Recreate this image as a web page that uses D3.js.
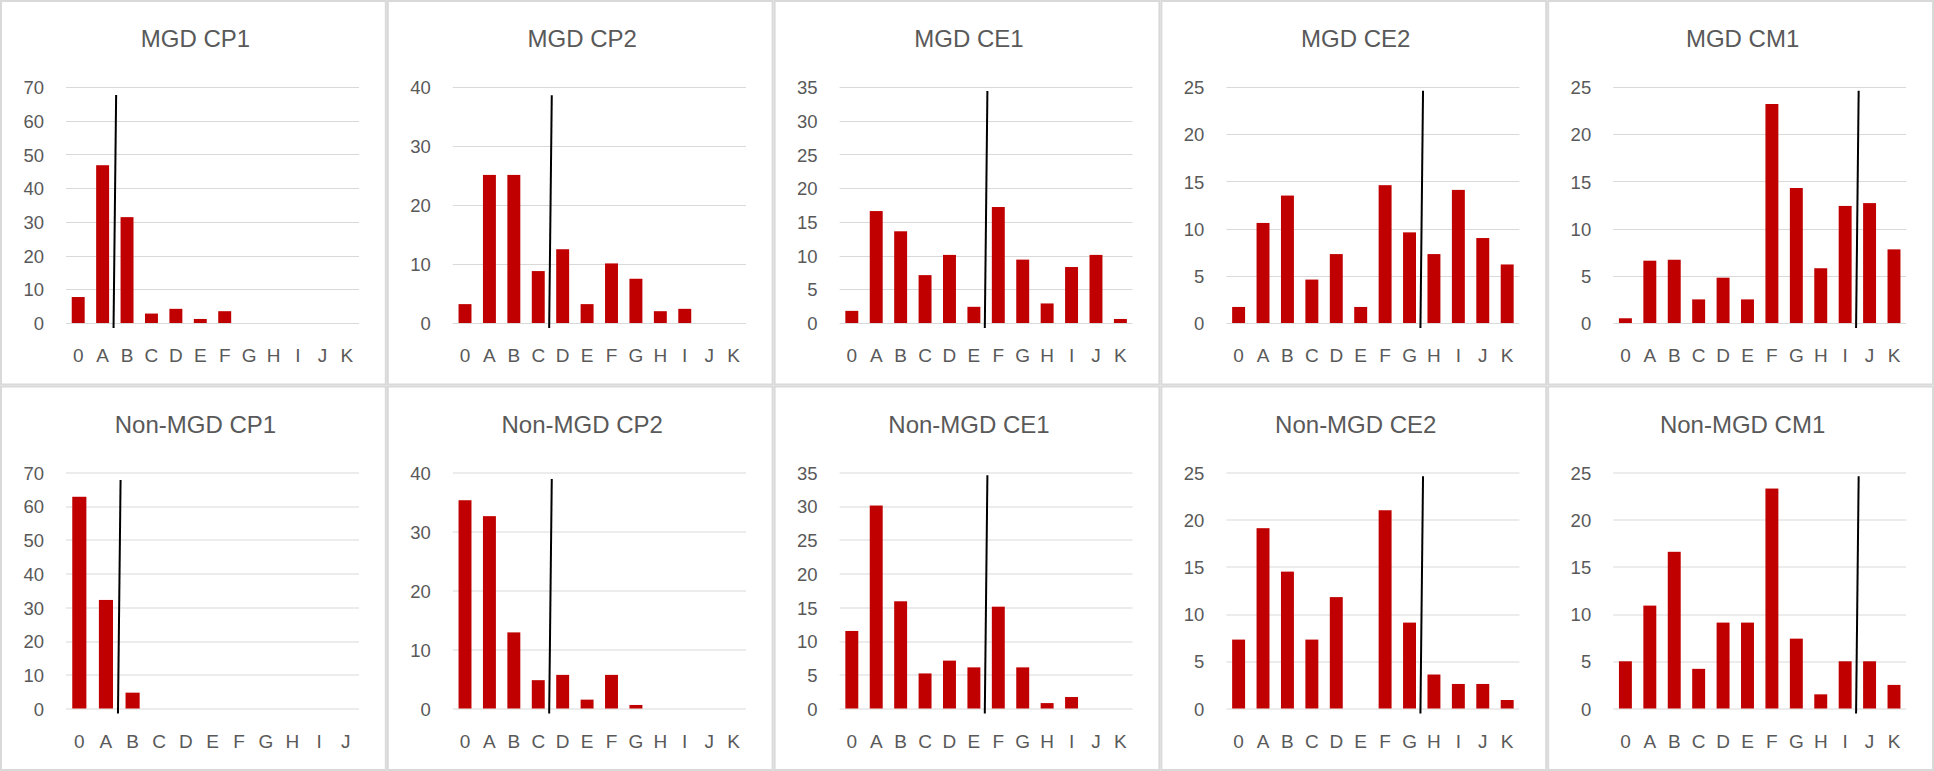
<!DOCTYPE html>
<html>
<head>
<meta charset="utf-8">
<script src="https://cdn.jsdelivr.net/npm/d3@7"></script>
<style>
	body { margin: 0; background: #fff; }
	svg { display: block; }
	text { font-family: "Liberation Sans", Arial, sans-serif; fill: #595959; }
</style>
</head>
<body>
<div id="graph"></div>
<script>
var	categories = ["0", "A", "B", "C", "D", "E", "F", "G", "H", "I", "J", "K"],
	titles = ["MGD CP1", "MGD CP2", "MGD CE1", "MGD CE2", "MGD CM1",
		"Non-MGD CP1", "Non-MGD CP2", "Non-MGD CE1", "Non-MGD CE2", "Non-MGD CM1"],
	catCount = [12, 12, 12, 12, 12, 11, 12, 12, 12, 12],
	yMax = [70, 40, 35, 25, 25, 70, 40, 35, 25, 25],
	yStep = [10, 10, 5, 5, 5, 10, 10, 5, 5, 5],
	cutIndex = [2, 4, 6, 8, 10, 2, 4, 6, 8, 10],
	cutTop = [67.6, 38.6, 34.4, 24.6, 24.6, 67.8, 38.9, 34.6, 24.6, 24.6];

// percent per category
var	mgdCP1 = [7.7, 46.8, 31.4, 2.8, 4.2, 1.2, 3.5, 0, 0, 0, 0, 0],
	mgdCP2 = [3.2, 25.1, 25.1, 8.8, 12.5, 3.2, 10.1, 7.5, 2.0, 2.4, 0, 0],
	mgdCE1 = [1.8, 16.6, 13.6, 7.1, 10.1, 2.4, 17.2, 9.4, 2.9, 8.3, 10.1, 0.6],
	mgdCE2 = [1.7, 10.6, 13.5, 4.6, 7.3, 1.7, 14.6, 9.6, 7.3, 14.1, 9.0, 6.2],
	mgdCM1 = [0.5, 6.6, 6.7, 2.5, 4.8, 2.5, 23.2, 14.3, 5.8, 12.4, 12.7, 7.8],
	nonCP1 = [62.8, 32.2, 4.7, 0, 0, 0, 0, 0, 0, 0, 0],
	nonCP2 = [35.3, 32.6, 12.9, 4.8, 5.7, 1.5, 5.7, 0.6, 0, 0, 0, 0],
	nonCE1 = [11.5, 30.1, 15.9, 5.2, 7.1, 6.1, 15.1, 6.1, 0.8, 1.7, 0, 0],
	nonCE2 = [7.3, 19.1, 14.5, 7.3, 11.8, 0, 21.0, 9.1, 3.6, 2.6, 2.6, 0.9],
	nonCM1 = [5.0, 10.9, 16.6, 4.2, 9.1, 9.1, 23.3, 7.4, 1.5, 5.0, 5.0, 2.5];

var series = [mgdCP1, mgdCP2, mgdCE1, mgdCE2, mgdCM1, nonCP1, nonCP2, nonCE1, nonCE2, nonCM1];

var	SVGwidth = 1934,
	SVGheight = 771,
	cols = 5,
	panelW = SVGwidth / cols,
	panelH = SVGheight / 2,
	margin = {top: 87, left: 66, width: 293, height: 236};

var svg = d3.select("div#graph")
			.append("svg")
			.attr("width", SVGwidth)
			.attr("height", SVGheight);

titles.forEach(function(title, i){
	var col = i % cols,
		row = Math.floor(i / cols),
		px = col * panelW,
		py = row * panelH,
		cats = categories.slice(0, catCount[i]),
		data = series[i].map(function(v, k){ return {cat: cats[k], value: v}; });

	var g = svg.append("g")
				.attr("class", "panel")
				.attr("transform", "translate(" + px + "," + py + ")");

	g.append("rect")
		.attr("x", 1)
		.attr("y", 1)
		.attr("width", panelW - 2)
		.attr("height", panelH - 2)
		.attr("fill", "#fff")
		.attr("stroke", "#d9d9d9")
		.attr("stroke-width", 2);

	var x = d3.scaleBand()
				.domain(cats)
				.range([margin.left, margin.left + margin.width])
				.paddingInner(0.47)
				.paddingOuter(0.235),
		y = d3.scaleLinear()
				.domain([0, yMax[i]])
				.range([margin.top + margin.height, margin.top]);

	var ticks = d3.range(0, yMax[i] + 0.001, yStep[i]);

	g.append("g")
		.attr("class", "grid")
		.selectAll("line")
		.data(ticks).enter()
		.append("line")
		.attr("x1", margin.left)
		.attr("x2", margin.left + margin.width)
		.attr("y1", function(d){ return Math.round(y(d)) + 0.5; })
		.attr("y2", function(d){ return Math.round(y(d)) + 0.5; })
		.attr("stroke", "#d9d9d9")
		.attr("stroke-width", 1);

	var yAxis = g.append("g")
				.attr("transform", "translate(" + (margin.left - 22) + ",0)")
				.call(d3.axisLeft(y).tickValues(ticks).tickSize(0).tickPadding(0));
	yAxis.select(".domain").remove();
	yAxis.selectAll("text")
		.attr("fill", "#595959")
		.style("font-size", "18.5px")
		.attr("dy", "0.36em");

	var xAxis = g.append("g")
				.attr("transform", "translate(0," + (margin.top + margin.height + 39) + ")")
				.call(d3.axisBottom(x).tickSize(0).tickPadding(0));
	xAxis.select(".domain").remove();
	xAxis.selectAll("text")
		.attr("fill", "#595959")
		.attr("dy", 0)
		.style("font-size", "19px");

	g.append("g")
		.attr("class", "bars")
		.selectAll("rect")
		.data(data).enter()
		.append("rect")
		.attr("x", function(d){ return x(d.cat); })
		.attr("y", function(d){ return y(d.value); })
		.attr("width", x.bandwidth())
		.attr("height", function(d){ return y(0) - y(d.value); })
		.attr("fill", "#c00000");

	// cut-off marker sits on the boundary between two categories
	var cutX = margin.left + x.step() * cutIndex[i];
	g.append("line")
		.attr("class", "cutoff")
		.attr("x1", cutX + 1.3)
		.attr("y1", y(cutTop[i]))
		.attr("x2", cutX - 1.3)
		.attr("y2", y(0) + 5)
		.attr("stroke", "#000")
		.attr("stroke-width", 2);

	g.append("text")
		.attr("class", "title")
		.attr("x", panelW / 2 + 2)
		.attr("y", 47)
		.attr("text-anchor", "middle")
		.style("font-size", "24px")
		.text(title);
});
</script>
</body>
</html>
